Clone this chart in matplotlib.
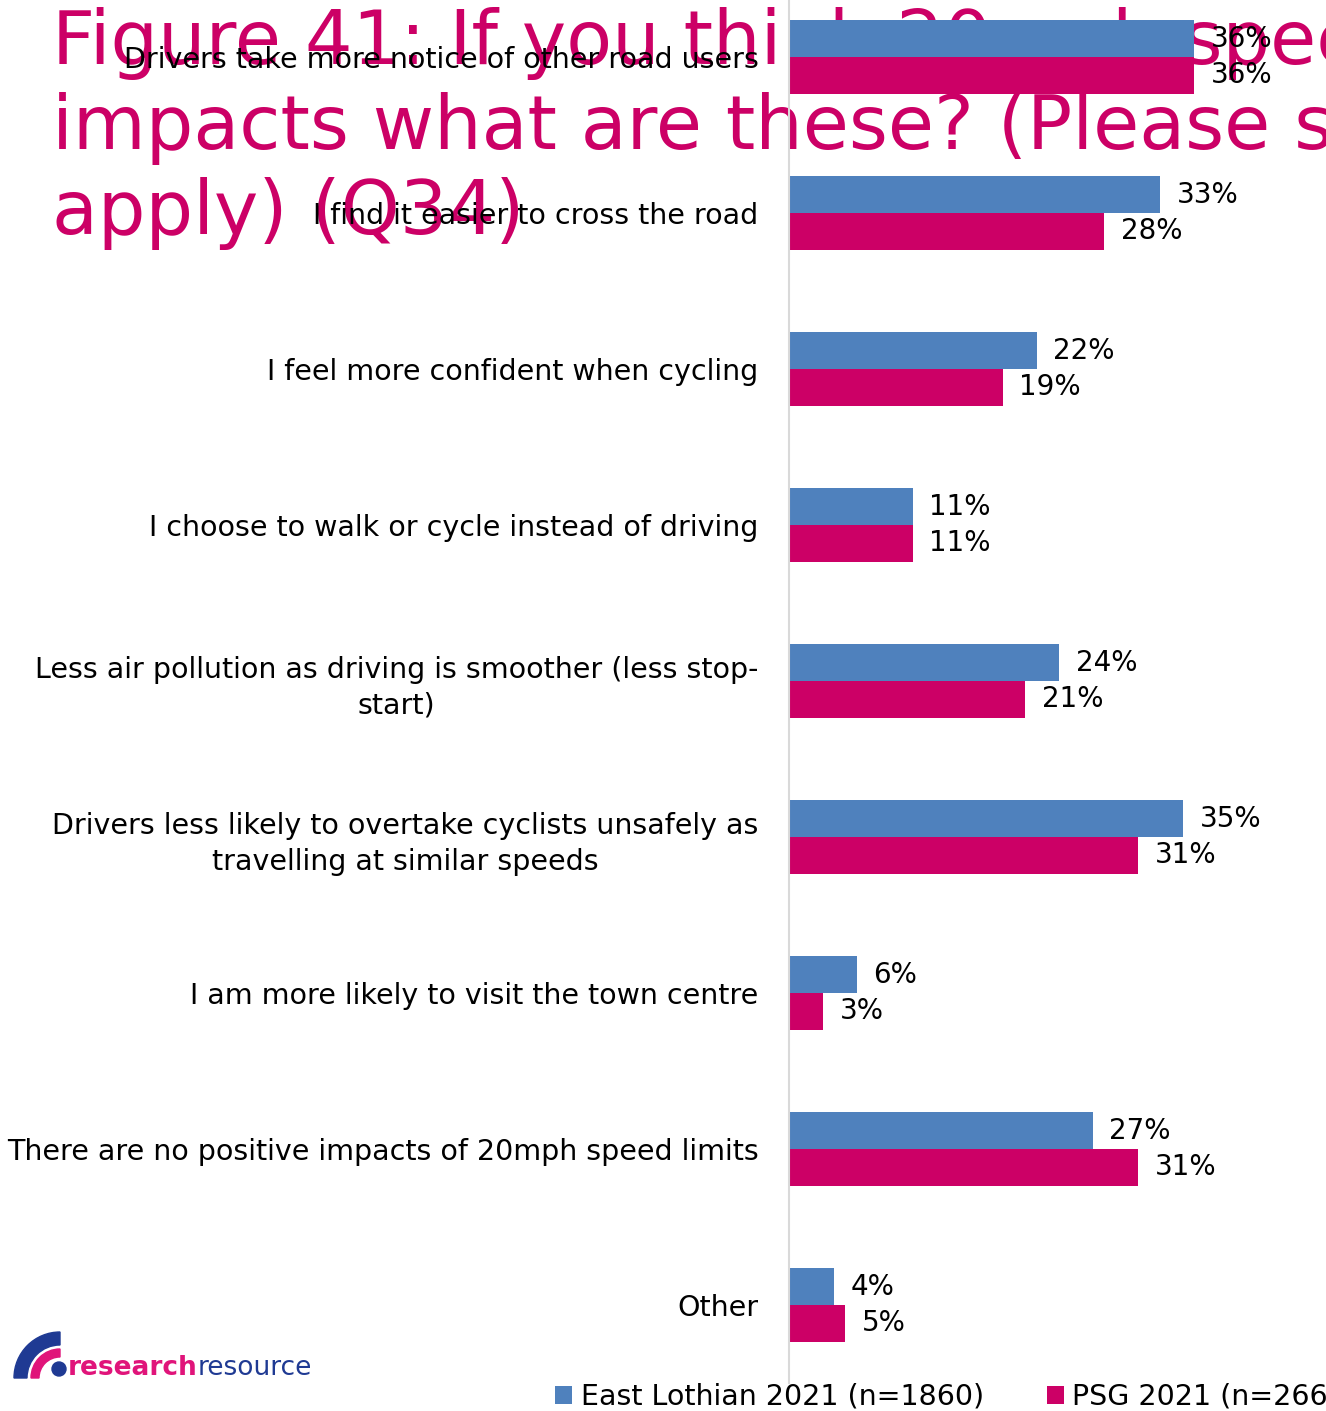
import matplotlib.pyplot as plt
import numpy as np
from matplotlib.patches import Wedge, Circle

plt.rcParams['font.family'] = ['DejaVu Sans']

categories = [
    'Drivers take more notice of other road users',
    'I find it easier to cross the road',
    'I feel more confident when cycling',
    'I choose to walk or cycle instead of driving',
    'Less air pollution as driving is smoother (less stop-\nstart)',
    'Drivers less likely to overtake cyclists unsafely as\ntravelling at similar speeds',
    'I am more likely to visit the town centre',
    'There are no positive impacts of 20mph speed limits',
    'Other',
]
east_lothian = [36, 33, 22, 11, 24, 35, 6, 27, 4]
psg = [36, 28, 19, 11, 21, 31, 3, 31, 5]
series_names = ['East Lothian 2021 (n=1860)', 'PSG 2021 (n=266)']

BLUE = '#4F81BD'
PINK = '#CC0066'

fig = plt.figure(figsize=(13.26, 14.11), dpi=100)
W, H = 1326, 1411

# axes: zero line at x=789, spans past the top edge
ax = fig.add_axes([789 / W, 1 - 1383 / H, 1 - 789 / W, 1404 / H])
ax.patch.set_alpha(0)

y = np.arange(len(categories))
h = 0.237
ax.barh(y - h / 2, east_lothian, height=h, color=BLUE, zorder=2, label=series_names[0])
ax.barh(y + h / 2, psg, height=h, color=PINK, zorder=2, label=series_names[1])

for i in range(len(categories)):
    ax.annotate(f'{east_lothian[i]}%', (east_lothian[i], y[i] - h / 2),
                xytext=(12, 0), textcoords='offset points',
                va='center', ha='left', fontsize=20, zorder=4)
    ax.annotate(f'{psg[i]}%', (psg[i], y[i] + h / 2),
                xytext=(12, 0), textcoords='offset points',
                va='center', ha='left', fontsize=20, zorder=4)

ax.set_xlim(0, (W - 789) / 11.25)
ax.set_ylim(len(categories) - 0.5, -0.5)
ax.set_yticks(y)
ax.set_yticklabels(categories, fontsize=20.5, multialignment='center',
                   linespacing=1.35)
ax.tick_params(axis='y', length=0, pad=22)
ax.set_xticks([])
for s in ['top', 'right', 'bottom']:
    ax.spines[s].set_visible(False)
ax.spines['left'].set_color('#D9D9D9')
ax.spines['left'].set_linewidth(1.5)

# title sits behind the bars
ax.text(52 / W, 1 - 7 / H,
        'Figure 41: If you think 20mph speed limits have positive\n'
        'impacts what are these? (Please select all that\n'
        'apply) (Q34)',
        transform=fig.transFigure, color=PINK, fontsize=54,
        va='top', ha='left', linespacing=1.21, zorder=1, clip_on=False)

fig.legend(loc='center left', bbox_to_anchor=(544 / W, 1 - 1397 / H),
           ncol=2, frameon=False, fontsize=20.5, handlelength=0.6,
           handleheight=0.6, handletextpad=0.3, columnspacing=2.2,
           borderaxespad=0)

# logo
lax = fig.add_axes([0, 0, 340 / W, 90 / H])
lax.set_xlim(0, 340)
lax.set_ylim(0, 90)
lax.axis('off')
lax.add_patch(Wedge((60, 33), 46, 90, 180, width=13, color='#1F3A93'))
lax.add_patch(Wedge((60, 33), 29, 90, 180, width=8, color='#E0147A'))
lax.add_patch(Circle((59, 42), 7, color='#1F3A93'))
t1 = lax.text(68, 36, 'research', color='#E0147A', fontsize=19,
              fontweight='bold', va='baseline')
lax.annotate('resource', xy=(1, 0), xycoords=t1, va='bottom',
             color='#1F3A93', fontsize=19)

fig.savefig('out.png', dpi=100)
